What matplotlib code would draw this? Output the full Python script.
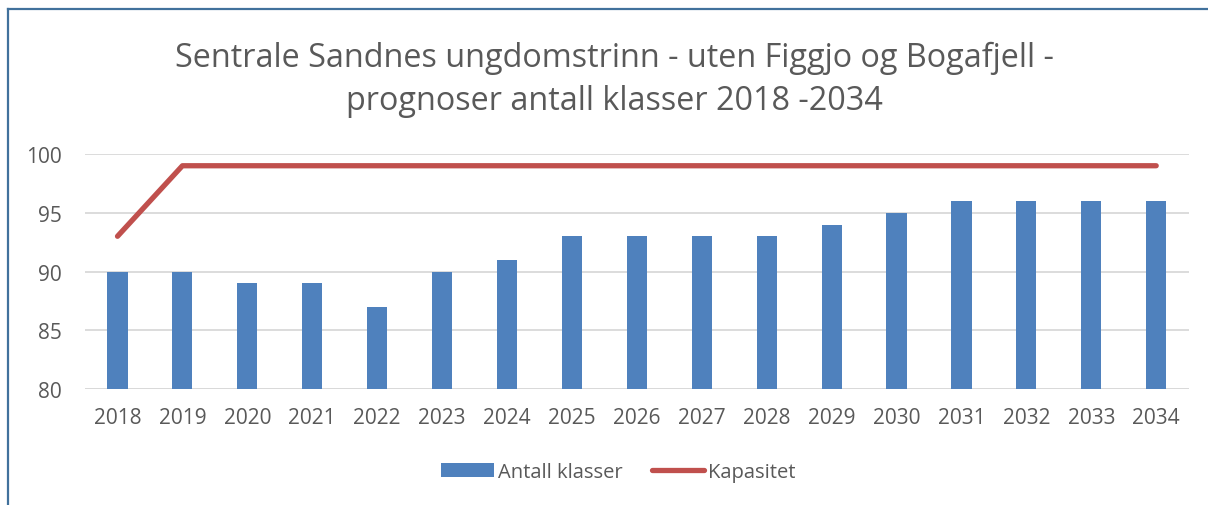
import matplotlib.pyplot as plt
from matplotlib.lines import Line2D

years = [2018, 2019, 2020, 2021, 2022, 2023, 2024, 2025, 2026,
         2027, 2028, 2029, 2030, 2031, 2032, 2033, 2034]
antall_klasser = [90, 90, 89, 89, 87, 90, 91, 93, 93, 93, 93, 94, 95, 96, 96, 96, 96]
kapasitet = [93, 99, 99, 99, 99, 99, 99, 99, 99, 99, 99, 99, 99, 99, 99, 99, 99]

TEXT = "#595959"
BAR = "#4F81BD"
LINE = "#C0504D"
GRID = "#D9D9D9"

plt.rcParams["font.family"] = ["Open Sans", "DejaVu Sans"]

fig = plt.figure(figsize=(12.08, 5.06), dpi=100)
ax = fig.add_axes([0.0704, 0.229, 0.9136, 0.4647])

x = list(range(len(years)))
bars = ax.bar(x, antall_klasser, width=0.31, color=BAR, zorder=3,
              label="Antall klasser")
line, = ax.plot(x, kapasitet, color=LINE, lw=3.8, solid_capstyle="round",
                zorder=4, label="Kapasitet")

ax.set_ylim(80, 100)
ax.set_xlim(-0.5, len(years) - 0.5)
ax.set_yticks(range(80, 101, 5))
ax.set_xticks(x)
ax.set_xticklabels([str(y) for y in years])
ax.yaxis.grid(True, color=GRID, lw=1.3, zorder=0)
ax.tick_params(length=0, labelsize=15, colors=TEXT)
ax.tick_params(axis="x", pad=13)
ax.tick_params(axis="y", pad=17)
for s in ax.spines.values():
    s.set_visible(False)
ax.axhline(80, color=GRID, lw=1.3, zorder=2)

fig.text(0.509, 0.885, "Sentrale Sandnes ungdomstrinn - uten Figgjo og Bogafjell -",
         ha="center", va="center", fontsize=23.3, color=TEXT)
fig.text(0.509, 0.80, "prognoser antall klasser 2018 -2034",
         ha="center", va="center", fontsize=23.3, color=TEXT)

fig.legend([bars, line], ["Antall klasser", "Kapasitet"],
           loc="center", bbox_to_anchor=(0.512, 0.065), ncol=2, frameon=False,
           fontsize=14.5, labelcolor=TEXT, handlelength=2.6, handleheight=0.75,
           handletextpad=0.2, columnspacing=1.45)

# chart frame edges along the top and left
fig.add_artist(Line2D([8 / 1208, 8 / 1208], [0, 1 - 10 / 506],
                      transform=fig.transFigure, color="#41719C", lw=1.6))
fig.add_artist(Line2D([8 / 1208, 1], [1 - 10 / 506, 1 - 10 / 506],
                      transform=fig.transFigure, color="#41719C", lw=1.6))

fig.savefig("out.png", dpi=100)
